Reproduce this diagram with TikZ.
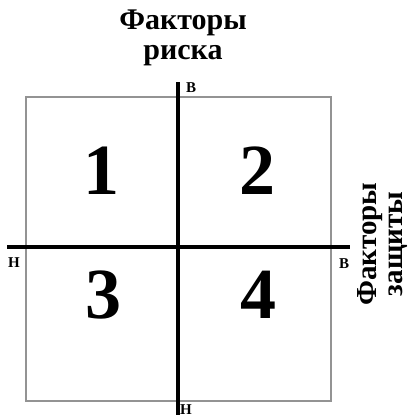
\documentclass[tikz,border=0pt]{standalone}
\usepackage{fontspec}
\setmainfont{Liberation Serif}
\begin{document}
\begin{tikzpicture}[x=1pt,y=-1pt,
  axis/.style={line width=4pt,black},
  frame/.style={draw=gray!85,line width=2pt},
  num/.style={font=\bfseries\fontsize{72}{72}\selectfont,inner sep=0pt},
  lbl/.style={font=\bfseries\fontsize{15}{15}\selectfont,inner sep=0pt},
  ttl/.style={font=\bfseries\fontsize{30}{30}\selectfont,align=center,inner sep=0pt},
  sidettl/.style={font=\bfseries\fontsize{29}{26}\selectfont,align=center,inner sep=0pt}]
\useasboundingbox (0,0) rectangle (412,420);
\draw[frame] (26,97) rectangle (331,401);
\coordinate (L) at (7,247);
\coordinate (R) at (350,247);
\coordinate (T) at (178,82);
\coordinate (B) at (178,415);
\draw[axis] (L) -- (R);
\draw[axis] (T) -- (B);
\node[ttl] (title) at (183,38) {Факторы\\риска};
\node[sidettl,rotate=90] (side) at (383,244) {Факторы\\защиты};
\node[num] (n1) at (101,171) {1};
\node[num] (n2) at (257,171) {2};
\node[num] (n3) at (103,295) {3};
\node[num] (n4) at (258,295) {4};
\node[lbl] (vt) at (191,88) {В};
\node[lbl] (hl) at (14,263) {Н};
\node[lbl] (hr) at (344,264) {В};
\node[lbl] (vb) at (186,410) {Н};
\end{tikzpicture}
\end{document}
